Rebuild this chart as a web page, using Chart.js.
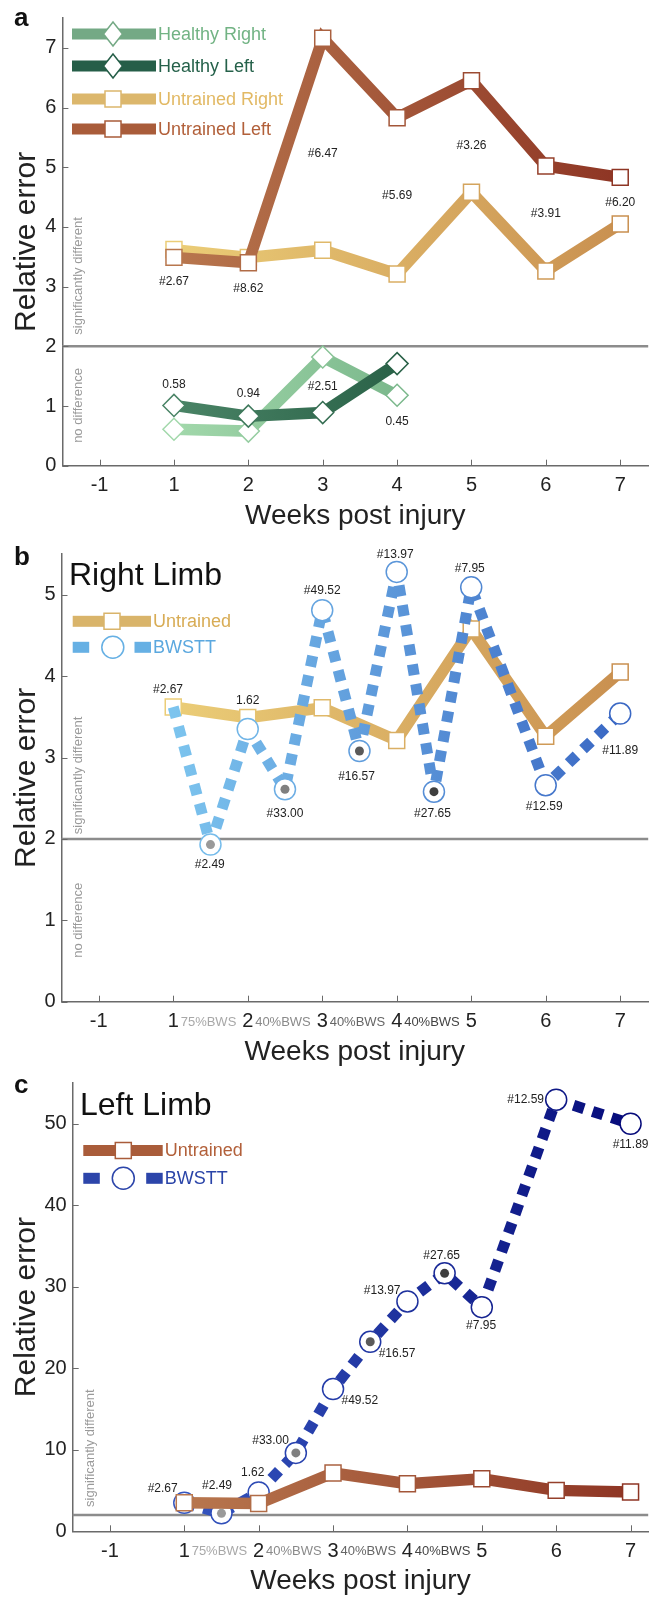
<!DOCTYPE html>
<html>
<head>
<meta charset="utf-8">
<script src="https://cdn.jsdelivr.net/npm/chart.js@4.4.0/dist/chart.umd.min.js"></script>
<style>
  body { margin: 0; background: #fff; width: 661px; height: 1601px; position: relative; overflow: hidden; }
  .panel { position: absolute; left: 0; width: 661px; }
  canvas { display: block; }
</style>
</head>
<body>
<div class="panel" style="top:0px"><canvas id="chartA" width="661" height="536"></canvas></div>
<div class="panel" style="top:536px"><canvas id="chartB" width="661" height="536"></canvas></div>
<div class="panel" style="top:1065px"><canvas id="chartC" width="661" height="536"></canvas></div>
<script>
// ---- data ----
const xTickValues = [0, 1, 2, 3, 4, 5, 6, 7];
const xTickLabels = ['-1', '1', '2', '3', '4', '5', '6', '7'];
const weeks = [1, 2, 3, 4, 5, 6, 7];
const healthyWeeks = [1, 2, 3, 4];
const healthyRight = [0.61, 0.58, 1.82, 1.18];
const healthyLeft = [1.01, 0.83, 0.89, 1.71];
const untrainedRight = [3.62, 3.49, 3.61, 3.21, 4.58, 3.26, 4.05];
const untrainedLeft = [3.49, 3.40, 7.16, 5.83, 6.45, 5.02, 4.83];
const bwsttWeeks = [1, 1.5, 2, 2.5, 3, 3.5, 4, 4.5, 5, 6, 7];
const bwsttRight = [3.62, 1.93, 3.35, 2.61, 4.81, 3.08, 5.28, 2.58, 5.09, 2.66, 3.54];
const bwsttLeft = [3.49, 2.20, 4.77, 9.62, 17.45, 23.25, 28.2, 31.65, 27.5, 52.95, 50.0];
const bwsWeeks = [1.5, 2.5, 3.5, 4.5];
const bwsLevels = ['75%BWS', '40%BWS', '40%BWS', '40%BWS'];

const notesA = ['#2.67', '#8.62', '#6.47', '#5.69', '#3.26', '#3.91', '#6.20'];
const notesAx = [1, 2, 3, 4, 5, 6, 7];
const notesAy = [3.08, 2.97, 5.22, 4.53, 5.36, 4.22, 4.40];
const notesHealthy = ['0.58', '0.94', '#2.51', '0.45'];
const notesHealthyY = [1.36, 1.21, 1.33, 0.73];
const notesBwstt = ['#2.67', '#2.49', '1.62', '#33.00', '#49.52', '#16.57', '#13.97', '#27.65', '#7.95', '#12.59', '#11.89'];
const notesRightX = [0.93, 1.49, 2.0, 2.5, 3.0, 3.46, 3.98, 4.48, 4.98, 5.98, 7.0];
const notesRightY = [3.83, 1.68, 3.70, 2.31, 5.05, 2.76, 5.49, 2.31, 5.32, 2.39, 3.08];
const notesLeftX = [0.71, 1.44, 1.92, 2.16, 3.36, 3.86, 3.66, 4.46, 4.99, 5.59, 7.0];
const notesLeftY = [5.26, 5.58, 7.22, 11.17, 16.07, 21.8, 29.5, 33.8, 25.2, 52.9, 47.4];

// ---- styling ----
const FONT = "'Liberation Sans', Arial, sans-serif";
Chart.defaults.font.family = FONT;
const axisColor = '#6a6a6a';
const dotColors = ['#9a9a9a', '#808080', '#5a5a5a', '#3e3e3e'];
const bwsColors = ['#a8a8a8', '#8a8a8a', '#666666', '#444444'];

function mix(c1, c2, t) {
  const a = parseInt(c1.slice(1), 16), b = parseInt(c2.slice(1), 16);
  const ch = (s) => Math.round(((a >> s) & 255) * (1 - t) + ((b >> s) & 255) * t);
  return `rgb(${ch(16)},${ch(8)},${ch(0)})`;
}

function gradient(c1, c2, x0, x1) {
  return (context) => {
    const chart = context.chart;
    const xs = chart.scales.x;
    if (!chart.chartArea || !xs) return c1;
    const g = chart.ctx.createLinearGradient(xs.getPixelForValue(x0), 0, xs.getPixelForValue(x1), 0);
    g.addColorStop(0, c1);
    g.addColorStop(1, c2);
    return g;
  };
}

function lineSet(label, xs, ys, c1, c2, extra) {
  const x0 = xs[0], x1 = xs[xs.length - 1];
  return Object.assign({
    label: label,
    data: xs.map((x, i) => ({ x: x, y: ys[i] })),
    borderColor: gradient(c1, c2, x0, x1),
    borderWidth: 11.5,
    borderJoinStyle: 'miter',
    pointBorderColor: xs.map((x) => mix(c1, c2, (x - x0) / (x1 - x0))),
    pointBackgroundColor: '#ffffff',
    pointBorderWidth: 1.5,
    pointRadius: 11.3,
    pointHoverRadius: 11.3,
    pointStyle: 'rect',
    tension: 0,
    clip: false
  }, extra);
}

function dashedSet(label, ys, c1, c2, extra) {
  return lineSet(label, bwsttWeeks, ys, c1, c2, Object.assign({
    borderWidth: 11, borderDash: [11, 9], borderCapStyle: 'butt', borderJoinStyle: 'bevel',
    pointStyle: 'circle', pointRadius: 10.5, pointHoverRadius: 10.5
  }, extra));
}

function dotSet(values) {
  return {
    label: 'BWS',
    data: bwsWeeks.map((w) => ({ x: w, y: values[bwsttWeeks.indexOf(w)] })),
    showLine: false,
    pointStyle: 'circle',
    pointRadius: 4.5,
    pointHoverRadius: 4.5,
    pointBackgroundColor: dotColors,
    pointBorderWidth: 0,
    order: -1,
    clip: false
  };
}

function drawMarker(ctx, kind, x, y, color) {
  ctx.save();
  ctx.fillStyle = '#fff';
  ctx.strokeStyle = color;
  ctx.lineWidth = 1.5;
  ctx.beginPath();
  if (kind === 'diamond') {
    ctx.moveTo(x, y - 12); ctx.lineTo(x + 9.5, y); ctx.lineTo(x, y + 12); ctx.lineTo(x - 9.5, y); ctx.closePath();
  } else if (kind === 'circle') {
    ctx.arc(x, y, 11, 0, Math.PI * 2);
  } else {
    ctx.rect(x - 8, y - 8, 16, 16);
  }
  ctx.fill();
  ctx.stroke();
  ctx.restore();
}

function makeDecor(cfg) {
  return {
    id: 'decor',
    beforeDatasetsDraw(chart) {
      const { ctx, chartArea: a, scales: { x, y } } = chart;
      ctx.save();
      // threshold between "no difference" and "significantly different"
      const ty = y.getPixelForValue(2);
      ctx.strokeStyle = '#8c8c8c';
      ctx.lineWidth = 2.5;
      ctx.beginPath(); ctx.moveTo(a.left, ty); ctx.lineTo(a.right, ty); ctx.stroke();
      // inward ticks
      ctx.strokeStyle = axisColor;
      ctx.lineWidth = 1;
      x.ticks.forEach((t) => {
        const px = Math.round(x.getPixelForValue(t.value)) + 0.5;
        ctx.beginPath(); ctx.moveTo(px, a.bottom); ctx.lineTo(px, a.bottom - 6); ctx.stroke();
      });
      y.ticks.forEach((t) => {
        const py = Math.round(y.getPixelForValue(t.value)) + 0.5;
        ctx.beginPath(); ctx.moveTo(a.left, py); ctx.lineTo(a.left + 6, py); ctx.stroke();
      });
      // rotated region captions
      ctx.fillStyle = '#9a9a9a';
      ctx.font = '13px ' + FONT;
      ctx.textAlign = 'center';
      ctx.textBaseline = 'middle';
      cfg.side.forEach((s) => {
        ctx.save();
        ctx.translate(s.px, y.getPixelForValue(s.v));
        ctx.rotate(-Math.PI / 2);
        ctx.fillText(s.text, 0, 0);
        ctx.restore();
      });
      ctx.restore();
    },
    afterDatasetsDraw(chart) {
      const { ctx, chartArea: a, scales: { x, y } } = chart;
      ctx.save();
      // value notes
      ctx.fillStyle = '#222';
      ctx.font = '12px ' + FONT;
      ctx.textAlign = 'center';
      ctx.textBaseline = 'middle';
      cfg.notes.forEach((n) => {
        n.text.forEach((t, i) => ctx.fillText(t, x.getPixelForValue(n.x[i]), y.getPixelForValue(n.y[i])));
      });
      // BWS level labels under the axis
      if (cfg.bws) {
        ctx.font = '13px ' + FONT;
        bwsLevels.forEach((t, i) => {
          ctx.fillStyle = bwsColors[i];
          ctx.fillText(t, x.getPixelForValue(bwsWeeks[i]) - 2, a.bottom + 20.5);
        });
      }
      // legend
      cfg.legend.forEach((l) => {
        ctx.fillStyle = l.lineColor;
        if (l.dashed) {
          ctx.fillRect(l.x0, l.y - 5.5, 16.5, 11);
          ctx.fillRect(l.x1 - 16.5, l.y - 5.5, 16.5, 11);
        } else {
          ctx.fillRect(l.x0, l.y - 5.5, l.x1 - l.x0, 11);
        }
        drawMarker(ctx, l.marker, l.xm, l.y, l.lineColor);
        ctx.fillStyle = l.color;
        ctx.font = '18px ' + FONT;
        ctx.textAlign = 'left';
        ctx.textBaseline = 'middle';
        ctx.fillText(l.text, l.x1 + 2, l.y + 1);
      });
      // panel letter and title
      ctx.fillStyle = '#111';
      ctx.textAlign = 'left';
      ctx.textBaseline = 'alphabetic';
      ctx.font = 'bold 26px ' + FONT;
      ctx.fillText(cfg.letter, 14, cfg.letterY);
      if (cfg.title) {
        ctx.font = '32px ' + FONT;
        ctx.fillText(cfg.title, cfg.titleX, cfg.titleY);
      }
      ctx.restore();
    }
  };
}

function makeScales(yMax, yTicks, yWidth, xMax, xHeight) {
  return {
    x: {
      type: 'linear', min: -0.5, max: xMax,
      afterBuildTicks: (s) => { s.ticks = xTickValues.map((v) => ({ value: v })); },
      afterFit: (s) => { s.height = xHeight; },
      grid: { display: false, drawTicks: false },
      border: { display: true, color: axisColor, width: 1.5 },
      ticks: { padding: 8, color: '#222', font: { size: 20 }, autoSkip: false, maxRotation: 0,
        callback: (v, i) => xTickLabels[i] },
      title: { display: true, text: 'Weeks post injury', color: '#222', font: { size: 28 }, padding: { top: 0, bottom: 3 } }
    },
    y: {
      type: 'linear', min: 0, max: yMax,
      afterBuildTicks: (s) => { s.ticks = yTicks.map((v) => ({ value: v })); },
      afterFit: (s) => { s.width = yWidth; },
      grid: { display: false, drawTicks: false },
      border: { display: true, color: axisColor, width: 1.5 },
      ticks: { padding: 6, color: '#222', font: { size: 20 } },
      title: { display: true, text: 'Relative error', color: '#222', font: { size: 30 }, padding: { top: 9, bottom: 0 } }
    }
  };
}

function makeChart(id, datasets, scales, padTop, cfg) {
  return new Chart(document.getElementById(id), {
    type: 'line',
    data: { datasets: datasets },
    options: {
      responsive: false,
      animation: false,
      events: [],
      layout: { padding: { top: padTop, left: 0, right: 0, bottom: 0 } },
      scales: scales,
      plugins: { legend: { display: false }, tooltip: { enabled: false } }
    },
    plugins: [makeDecor(cfg)]
  });
}

// ---- panel a ----
makeChart('chartA', [
  lineSet('Untrained Left', weeks, untrainedLeft, '#b8774e', '#8e3524', { order: 0 }),
  lineSet('Untrained Right', weeks, untrainedRight, '#ebcd77', '#c99050', { order: 1 }),
  lineSet('Healthy Left', healthyWeeks, healthyLeft, '#4a8466', '#2a6248', { order: 2, pointStyle: 'rectRot', pointRadius: 11 }),
  lineSet('Healthy Right', healthyWeeks, healthyRight, '#a2d8ab', '#7bb88c', { order: 3, pointStyle: 'rectRot', pointRadius: 11 })
], makeScales(7.5, [0, 1, 2, 3, 4, 5, 6, 7], 62.4, 7.376, 70.3), 16, {
  letter: 'a', letterY: 26,
  side: [{ text: 'significantly different', px: 78, v: 3.18 }, { text: 'no difference', px: 78, v: 1.01 }],
  notes: [{ text: notesA, x: notesAx, y: notesAy }, { text: notesHealthy, x: healthyWeeks, y: notesHealthyY }],
  legend: [
    { text: 'Healthy Right', color: '#72b384', lineColor: '#74a985', marker: 'diamond', y: 34, x0: 72, x1: 156, xm: 113 },
    { text: 'Healthy Left', color: '#25614a', lineColor: '#255e48', marker: 'diamond', y: 66, x0: 72, x1: 156, xm: 113 },
    { text: 'Untrained Right', color: '#e2b964', lineColor: '#dcb76c', marker: 'rect', y: 99, x0: 72, x1: 156, xm: 113 },
    { text: 'Untrained Left', color: '#b2603a', lineColor: '#a95c3a', marker: 'rect', y: 129, x0: 72, x1: 156, xm: 113 }
  ]
});

// ---- panel b ----
makeChart('chartB', [
  dotSet(bwsttRight),
  dashedSet('BWSTT', bwsttRight, '#7cc4ee', '#3a68c4', {
    order: 0, pointRadius: bwsttWeeks.map((w, i) => (i === 0 ? 0 : 10.5))
  }),
  lineSet('Untrained', weeks, untrainedRight, '#ebcd77', '#c99050', { order: 1 })
], makeScales(5.5, [0, 1, 2, 3, 4, 5], 61.5, 7.376, 70.3), 16.7, {
  letter: 'b', letterY: 29, title: 'Right Limb', titleX: 69, titleY: 49, bws: true,
  side: [{ text: 'significantly different', px: 78, v: 2.78 }, { text: 'no difference', px: 78, v: 1.0 }],
  notes: [{ text: notesBwstt, x: notesRightX, y: notesRightY }],
  legend: [
    { text: 'Untrained', color: '#d8ac55', lineColor: '#d9b46a', marker: 'rect', y: 85.3, x0: 72.7, x1: 151, xm: 112 },
    { text: 'BWSTT', color: '#5ba8df', lineColor: '#66b0e4', marker: 'circle', dashed: true, y: 111.3, x0: 72.7, x1: 151, xm: 112.8 }
  ]
});

// ---- panel c ----
makeChart('chartC', [
  dotSet(bwsttLeft),
  lineSet('Untrained', weeks, untrainedLeft, '#b8774e', '#8e3524', { order: 0 }),
  dashedSet('BWSTT', bwsttLeft, '#3556c0', '#060b7a', { order: 1 })
], makeScales(55, [0, 10, 20, 30, 40, 50], 72.7, 7.237, 69.7), 16.7, {
  letter: 'c', letterY: 28, title: 'Left Limb', titleX: 80, titleY: 50, bws: true,
  side: [{ text: 'significantly different', px: 90, v: 10.2 }],
  notes: [{ text: notesBwstt, x: notesLeftX, y: notesLeftY }],
  legend: [
    { text: 'Untrained', color: '#b2603a', lineColor: '#a95c3a', marker: 'rect', y: 85.5, x0: 83.3, x1: 162.7, xm: 123.3 },
    { text: 'BWSTT', color: '#2a44a8', lineColor: '#2c45aa', marker: 'circle', dashed: true, y: 113.3, x0: 83.3, x1: 162.7, xm: 123.3 }
  ]
});
</script>
</body>
</html>
